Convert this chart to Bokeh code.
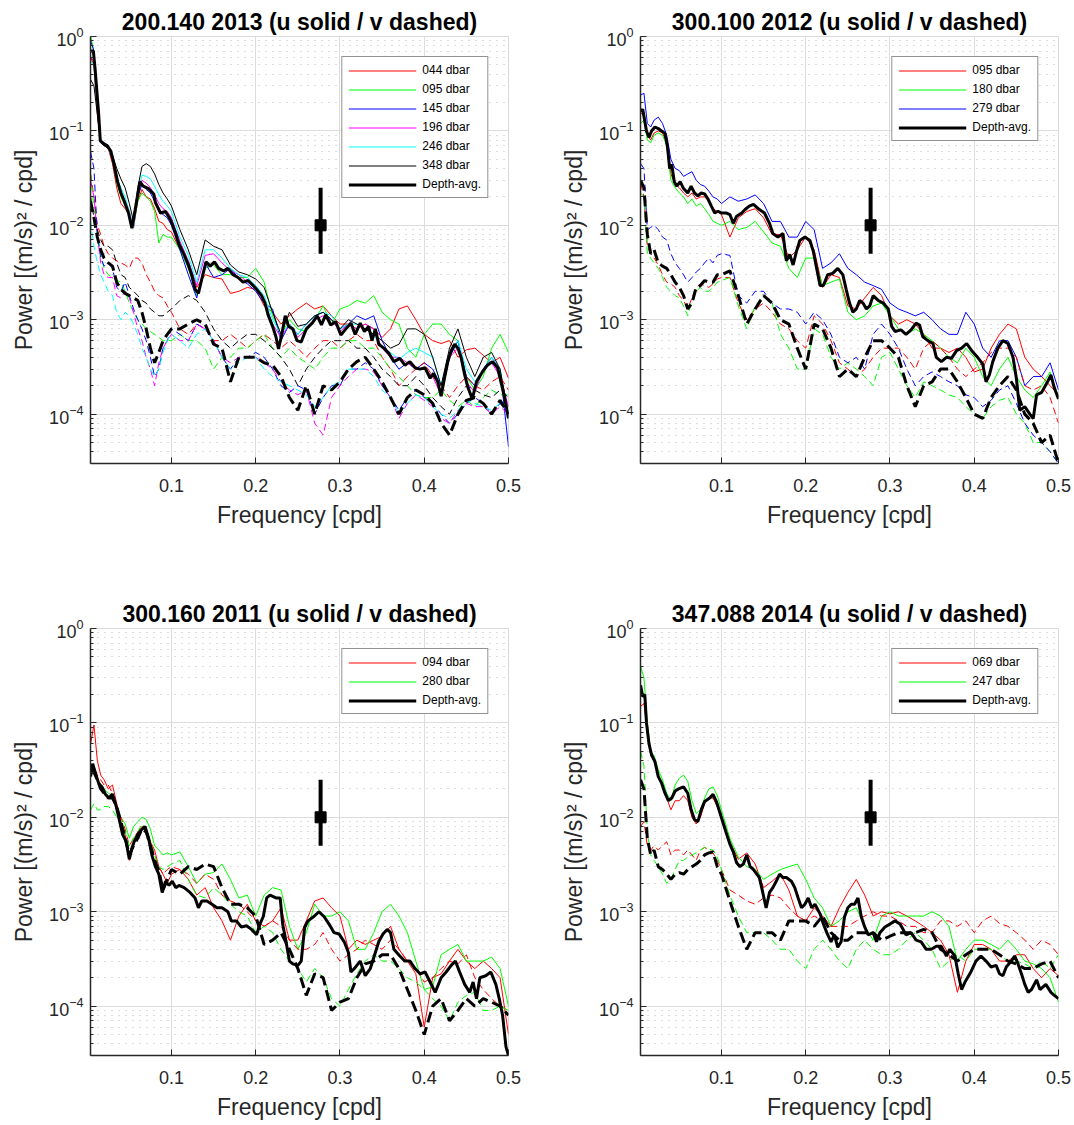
from bokeh.plotting import figure
from bokeh.layouts import column, row
from bokeh.models import Range1d, FixedTicker, Legend, LegendItem
from bokeh.embed import file_html
from bokeh.resources import INLINE

FONT = "Liberation Sans"

# ---------------- common frequency grid (cpd) for the thin spectra ----------------
F_GRID = [0.004, 0.008, 0.012, 0.016, 0.02, 0.025, 0.03, 0.035, 0.04, 0.045,
          0.05, 0.055, 0.06, 0.065, 0.07, 0.075, 0.08, 0.085, 0.09, 0.095,
          0.10, 0.11, 0.12, 0.13, 0.14, 0.15, 0.16, 0.17, 0.18, 0.19,
          0.20, 0.21, 0.22, 0.23, 0.24, 0.25, 0.26, 0.27, 0.28, 0.29,
          0.30, 0.31, 0.32, 0.33, 0.34, 0.35, 0.36, 0.37, 0.38, 0.39,
          0.40, 0.41, 0.42, 0.43, 0.44, 0.45, 0.46, 0.47, 0.48, 0.49, 0.50]

# ---------------- panel 1: 200.140 2013 ----------------
P1_TITLE = "200.140 2013 (u solid / v dashed)"
P1_LABELS = ["044 dbar", "095 dbar", "145 dbar", "196 dbar", "246 dbar", "348 dbar"]
P1_COLORS = ["#ff0000", "#00ff00", "#0000ff", "#ff00ff", "#00ffff", "#000000"]
P1_U_044 = [0.6, 0.5, 0.15, 0.075, 0.07, 0.065, 0.045, 0.025, 0.017, 0.015, 0.013, 0.0095, 0.018, 0.024, 0.02, 0.019, 0.015, 0.011, 0.0105, 0.009,
            0.0085, 0.0055, 0.0042, 0.0022, 0.003, 0.0028, 0.0027, 0.0019, 0.002, 0.0022,
            0.0021, 0.0014, 0.0012, 0.0009, 0.0011, 0.0013, 0.0015, 0.0013, 0.0014, 0.0011,
            0.0009, 0.0009, 0.0008, 0.0009, 0.0008, 0.00065, 0.0008, 0.0013, 0.0014, 0.001,
            0.0007, 0.0006, 0.00056, 0.0006, 0.0004, 0.00048, 0.0005, 0.00042, 0.00035, 0.0004, 0.00024]
P1_U_095 = [1.0, 0.7, 0.2, 0.08, 0.075, 0.068, 0.05, 0.028, 0.02, 0.016, 0.013, 0.01, 0.018, 0.022, 0.02, 0.018, 0.014, 0.0065, 0.008, 0.0075,
            0.0075, 0.0055, 0.0035, 0.0018, 0.0035, 0.0038, 0.003, 0.003, 0.0028, 0.0028,
            0.0035, 0.0025, 0.0011, 0.0007, 0.001, 0.0008, 0.00075, 0.001, 0.0014, 0.0009,
            0.0013, 0.0014, 0.0016, 0.0015, 0.0018, 0.0012, 0.001, 0.0009, 0.0005, 0.0004,
            0.0007, 0.0009, 0.0009, 0.0007, 0.0006, 0.00025, 0.00018, 0.00025, 0.0005, 0.0007, 0.00045]
P1_U_145 = [0.9, 0.7, 0.2, 0.08, 0.075, 0.07, 0.05, 0.03, 0.022, 0.017, 0.013, 0.01, 0.02, 0.027, 0.024, 0.022, 0.018, 0.014, 0.013, 0.012,
            0.01, 0.0055, 0.003, 0.0017, 0.004, 0.0028, 0.003, 0.0035, 0.0027, 0.0024,
            0.002, 0.0015, 0.0013, 0.0006, 0.0009, 0.0007, 0.0009, 0.0011, 0.0012, 0.001,
            0.0008, 0.0009, 0.0011, 0.001, 0.0011, 0.0006, 0.0004, 0.0003, 0.00035, 0.0003,
            0.00035, 0.0003, 0.0002, 0.0004, 0.0006, 0.00025, 0.0002, 0.0003, 0.0004, 0.0003, 0.000045]
P1_U_196 = [0.6, 0.55, 0.18, 0.075, 0.07, 0.066, 0.05, 0.031, 0.023, 0.018, 0.014, 0.0095, 0.021, 0.03, 0.028, 0.025, 0.021, 0.017, 0.015, 0.014,
            0.012, 0.0068, 0.0042, 0.0023, 0.0048, 0.005, 0.004, 0.0033, 0.003, 0.0025,
            0.0022, 0.0016, 0.0009, 0.00065, 0.0009, 0.00065, 0.0008, 0.001, 0.0011, 0.001,
            0.00075, 0.0009, 0.0008, 0.0009, 0.0008, 0.0005, 0.0004, 0.0004, 0.00035, 0.0003,
            0.0003, 0.00025, 0.00016, 0.0004, 0.0005, 0.00022, 0.00017, 0.0003, 0.00035, 0.00025, 0.00012]
P1_U_246 = [0.55, 0.5, 0.17, 0.075, 0.07, 0.066, 0.05, 0.033, 0.025, 0.02, 0.014, 0.0095, 0.022, 0.034, 0.033, 0.031, 0.026, 0.021, 0.018, 0.016,
            0.014, 0.0075, 0.0048, 0.0025, 0.0055, 0.0055, 0.0045, 0.0035, 0.003, 0.0028,
            0.0023, 0.0018, 0.001, 0.0007, 0.0009, 0.0007, 0.0009, 0.0011, 0.0012, 0.0011,
            0.0008, 0.0009, 0.0009, 0.0008, 0.0007, 0.0005, 0.00045, 0.00038, 0.00045, 0.0005,
            0.00045, 0.0004, 0.0002, 0.00045, 0.0006, 0.0003, 0.00022, 0.0003, 0.0004, 0.0003, 0.00009]
P1_U_348 = [0.35, 0.3, 0.15, 0.075, 0.07, 0.065, 0.055, 0.04, 0.031, 0.025, 0.017, 0.011, 0.025, 0.042, 0.045, 0.042, 0.035, 0.027, 0.022, 0.019,
            0.016, 0.009, 0.0055, 0.003, 0.007, 0.006, 0.0055, 0.0038, 0.0032, 0.003,
            0.0027, 0.0022, 0.0012, 0.0007, 0.0012, 0.00085, 0.0009, 0.0011, 0.0012, 0.001,
            0.0008, 0.001, 0.0009, 0.0008, 0.0007, 0.0006, 0.0005, 0.00055, 0.0008, 0.0008,
            0.0007, 0.0004, 0.0002, 0.0005, 0.0008, 0.0004, 0.00025, 0.0004, 0.00045, 0.0003, 0.0001]
P1_V_044 = [0.035, 0.02, 0.01, 0.008, 0.006, 0.005, 0.0045, 0.0042, 0.004, 0.0038, 0.0035, 0.0045, 0.0045, 0.004, 0.003, 0.0025, 0.002, 0.0018, 0.0017, 0.0014,
            0.0012, 0.0008, 0.0007, 0.0009, 0.0008, 0.0006, 0.0006, 0.0007, 0.0006, 0.0005,
            0.0006, 0.0007, 0.0006, 0.0005, 0.0006, 0.0005, 0.0004, 0.0005, 0.0006, 0.0006,
            0.0005, 0.0006, 0.0007, 0.0006, 0.0006, 0.0004, 0.0003, 0.0002, 0.00025, 0.0003,
            0.00035, 0.00025, 0.0002, 0.00015, 0.0002, 0.00025, 0.0002, 0.00018, 0.00022, 0.00025, 0.00018]
P1_V_095 = [0.035, 0.015, 0.008, 0.005, 0.0035, 0.003, 0.0028, 0.0026, 0.0025, 0.002, 0.0015, 0.0012, 0.001, 0.0009, 0.0008, 0.00075, 0.0007, 0.00065, 0.0006, 0.0006,
            0.0006, 0.0007, 0.0006, 0.0006, 0.0005, 0.0003, 0.0004, 0.0004, 0.0005, 0.0005,
            0.0006, 0.0007, 0.0005, 0.0004, 0.0005, 0.0004, 0.00035, 0.0003, 0.0004, 0.0005,
            0.0005, 0.0006, 0.0006, 0.0005, 0.0005, 0.0004, 0.0003, 0.00025, 0.0002, 0.00016,
            0.00015, 0.00015, 0.00018, 0.00014, 0.00012, 0.00014, 0.00012, 0.00015, 0.00018, 0.00016, 0.00016]
P1_V_145 = [0.06, 0.04, 0.008, 0.0045, 0.0037, 0.004, 0.0035, 0.0022, 0.002, 0.0025, 0.0018, 0.0013, 0.001, 0.0008, 0.0006, 0.0004, 0.00025, 0.0003, 0.0005, 0.0006,
            0.0008, 0.0007, 0.0006, 0.0009, 0.0008, 0.0006, 0.0004, 0.0003, 0.0004, 0.0004,
            0.00045, 0.0004, 0.0003, 0.0002, 0.00017, 0.0002, 0.00018, 0.0001, 0.00015, 0.0002,
            0.0002, 0.0003, 0.0003, 0.00035, 0.0003, 0.0002, 0.00015, 0.00011, 0.00015, 0.00018,
            0.00015, 0.00013, 0.0001, 0.00008, 0.0001, 0.00013, 0.00015, 0.00013, 0.0001, 0.00013, 0.0001]
P1_V_196 = [0.03, 0.02, 0.008, 0.004, 0.003, 0.0028, 0.0028, 0.0018, 0.0017, 0.002, 0.0017, 0.0012, 0.0008, 0.0006, 0.0004, 0.0003, 0.0002, 0.00035, 0.0005, 0.0006,
            0.0007, 0.0006, 0.0006, 0.0009, 0.0008, 0.0006, 0.0004, 0.00035, 0.0004, 0.0004,
            0.0004, 0.00035, 0.0003, 0.00022, 0.00018, 0.00016, 0.00018, 0.00008, 0.00006, 0.00015,
            0.0002, 0.00025, 0.0003, 0.0003, 0.00028, 0.0002, 0.00015, 0.00009, 0.00013, 0.00016,
            0.00014, 0.00012, 0.00009, 0.00008, 0.00011, 0.00013, 0.00012, 0.00012, 0.0001, 0.00012, 0.0001]
P1_V_246 = [0.011, 0.006, 0.004, 0.003, 0.0025, 0.002, 0.0018, 0.0012, 0.001, 0.0012, 0.0011, 0.0009, 0.0007, 0.0005, 0.0004, 0.0003, 0.00025, 0.0003, 0.00045, 0.0006,
            0.0007, 0.0006, 0.0005, 0.0007, 0.0008, 0.0006, 0.0004, 0.0003, 0.00035, 0.0004,
            0.0004, 0.0003, 0.00025, 0.00022, 0.0002, 0.00018, 0.00016, 0.00012, 0.00015, 0.0002,
            0.00022, 0.0003, 0.0003, 0.0003, 0.00025, 0.00018, 0.00015, 0.0001, 0.00013, 0.00016,
            0.00015, 0.00012, 0.0001, 0.00009, 0.00011, 0.00014, 0.00013, 0.00012, 0.00011, 0.00013, 0.00012]
P1_V_348 = [0.02, 0.012, 0.009, 0.007, 0.006, 0.006, 0.0055, 0.004, 0.003, 0.0028, 0.0022, 0.002, 0.0018, 0.0016, 0.0015, 0.0013, 0.0012, 0.0011, 0.0011, 0.0012,
            0.0013, 0.0016, 0.0018, 0.0016, 0.0012, 0.0008, 0.0006, 0.0005, 0.0006, 0.0007,
            0.0007, 0.0006, 0.0005, 0.0004, 0.0003, 0.0002, 0.0003, 0.0004, 0.0005, 0.0006,
            0.0006, 0.0006, 0.0005, 0.0005, 0.0004, 0.0003, 0.00025, 0.0002, 0.0002, 0.00025,
            0.0002, 0.00015, 0.00012, 0.0001, 0.00015, 0.0002, 0.00018, 0.00016, 0.00015, 0.00018, 0.00015]
P1_V_AVG = [0.018, 0.012, 0.0075, 0.0055, 0.0045, 0.004, 0.0037, 0.0025, 0.0021, 0.0019, 0.0018, 0.0017, 0.0016, 0.0012, 0.0008, 0.0005, 0.00035, 0.00045, 0.0006, 0.0007,
            0.0008, 0.0008, 0.0009, 0.001, 0.0009, 0.00055, 0.0005, 0.00022, 0.0004, 0.0004,
            0.0004, 0.00035, 0.00033, 0.00025, 0.00015, 0.00011, 0.0002, 0.0001, 0.0002, 0.00018,
            0.00022, 0.0003, 0.00036, 0.0004, 0.0003, 0.00022, 0.00015, 0.0001, 0.00015, 0.00018,
            0.00016, 0.00013, 0.00008, 0.00006, 0.0001, 0.00014, 0.00015, 0.00013, 0.0001, 0.00014, 0.0001]
P1_U_AVG_F = [0.004, 0.0073, 0.0093, 0.0135, 0.0155, 0.0196, 0.0237, 0.028, 0.031, 0.036, 0.040, 0.044, 0.049, 0.053, 0.057,
              0.0625, 0.0665, 0.0727, 0.079, 0.081, 0.087, 0.093, 0.099, 0.105, 0.109, 0.115, 0.12, 0.124, 0.128, 0.132,
              0.136, 0.141, 0.146, 0.151, 0.156, 0.162, 0.167, 0.173, 0.179, 0.185, 0.191, 0.197, 0.203, 0.207, 0.211,
              0.215, 0.22, 0.224, 0.227, 0.231, 0.235, 0.239, 0.244, 0.249, 0.254, 0.26, 0.267, 0.273, 0.278, 0.283,
              0.289, 0.295, 0.301, 0.307, 0.313, 0.318, 0.324, 0.329, 0.334, 0.338, 0.342, 0.346, 0.352, 0.358, 0.364,
              0.371, 0.377, 0.383, 0.389, 0.395, 0.401, 0.407, 0.411, 0.416, 0.42, 0.424, 0.428, 0.432, 0.436, 0.44,
              0.444, 0.448, 0.452, 0.457, 0.462, 0.469, 0.475, 0.481, 0.487, 0.491, 0.495, 0.5]
P1_U_AVG = [0.70, 0.70, 0.46, 0.155, 0.079, 0.073, 0.07, 0.061, 0.048, 0.029, 0.022, 0.018, 0.0135, 0.0093, 0.0148,
            0.029, 0.026, 0.0245, 0.0214, 0.0174, 0.0135, 0.014, 0.0114, 0.0082, 0.0063, 0.0049, 0.0038, 0.003, 0.0021, 0.0019,
            0.0027, 0.0041, 0.0037, 0.0041, 0.0035, 0.0033, 0.0035, 0.003, 0.0028, 0.0025, 0.0026, 0.0023, 0.002, 0.0018, 0.0015,
            0.0011, 0.00085, 0.00066, 0.00049, 0.0007, 0.0011, 0.00085, 0.0008, 0.0006, 0.00058, 0.0008, 0.00092, 0.0011, 0.00088, 0.00113,
            0.00088, 0.00095, 0.00069, 0.0008, 0.00092, 0.0007, 0.00092, 0.00075, 0.00085, 0.0006, 0.0008, 0.00055, 0.0005, 0.00044, 0.00036,
            0.00039, 0.00033, 0.00036, 0.00031, 0.0003, 0.00031, 0.00024, 0.00027, 0.00022, 0.000155, 0.00024, 0.00036, 0.00047, 0.00055, 0.0005,
            0.00039, 0.00026, 0.00019, 0.000145, 0.00022, 0.00028, 0.00033, 0.00036, 0.00031, 0.00022, 0.000155, 0.00009]

# ---------------- panel 2: 300.100 2012 ----------------
P2_TITLE = "300.100 2012 (u solid / v dashed)"
P2_LABELS = ["095 dbar", "180 dbar", "279 dbar"]
P2_COLORS = ["#ff0000", "#00ff00", "#0000ff"]
P2_U_095 = [0.15, 0.16, 0.09, 0.08, 0.095, 0.1, 0.095, 0.075, 0.035, 0.027, 0.025, 0.022, 0.02, 0.022, 0.019, 0.02, 0.02, 0.018, 0.015, 0.014,
            0.013, 0.0075, 0.012, 0.014, 0.015, 0.012, 0.008, 0.008, 0.0045, 0.0055,
            0.0075, 0.0055, 0.0022, 0.003, 0.0028, 0.0014, 0.0013, 0.0017, 0.0022, 0.0018,
            0.0011, 0.0009, 0.001, 0.0009, 0.0007, 0.0005, 0.0005, 0.00045, 0.0005, 0.0004,
            0.00028, 0.0003, 0.0005, 0.0007, 0.0009, 0.0008, 0.0004, 0.0003, 0.00025, 0.0002, 0.00016]
P2_U_180 = [0.12, 0.13, 0.08, 0.075, 0.09, 0.095, 0.09, 0.07, 0.03, 0.025, 0.022, 0.02, 0.017, 0.019, 0.016, 0.017, 0.015, 0.013, 0.011, 0.0105,
            0.01, 0.011, 0.009, 0.0095, 0.011, 0.0085, 0.0065, 0.006, 0.0035, 0.0028,
            0.0045, 0.0045, 0.0023, 0.0025, 0.0027, 0.0012, 0.001, 0.0011, 0.0014, 0.0015,
            0.0011, 0.0008, 0.0007, 0.0008, 0.0007, 0.0006, 0.0005, 0.0004, 0.00035, 0.0005,
            0.0004, 0.00025, 0.0002, 0.0003, 0.0004, 0.00025, 0.00018, 0.00015, 0.0002, 0.00028, 0.00015]
P2_U_279 = [0.24, 0.25, 0.12, 0.11, 0.13, 0.14, 0.12, 0.09, 0.05, 0.04, 0.038, 0.033, 0.035, 0.037, 0.03, 0.027, 0.026, 0.023, 0.02, 0.019,
            0.017, 0.02, 0.018, 0.019, 0.021, 0.017, 0.011, 0.011, 0.0075, 0.0075,
            0.011, 0.009, 0.0035, 0.004, 0.005, 0.0035, 0.003, 0.0025, 0.0023, 0.0021,
            0.0015, 0.0013, 0.0012, 0.0011, 0.0012, 0.001, 0.0008, 0.0007, 0.0007, 0.0012,
            0.0009, 0.0005, 0.0004, 0.0006, 0.0006, 0.0004, 0.0002, 0.00025, 0.00025, 0.00035, 0.00018]
P2_V_095 = [0.028, 0.02, 0.006, 0.005, 0.0045, 0.0038, 0.003, 0.0025, 0.0024, 0.0022, 0.0018, 0.0016, 0.0013, 0.0017, 0.0022, 0.0024, 0.0023, 0.0022, 0.0024, 0.0027,
            0.0028, 0.0028, 0.0015, 0.001, 0.0013, 0.0015, 0.0012, 0.0009, 0.0008, 0.0006,
            0.0005, 0.0011, 0.0009, 0.0006, 0.00035, 0.0003, 0.00025, 0.0003, 0.0004, 0.0005,
            0.0005, 0.0005, 0.0004, 0.0003, 0.0005, 0.0006, 0.0005, 0.0004, 0.0003, 0.00025,
            0.0003, 0.00035, 0.00045, 0.0005, 0.0005, 0.0004, 0.0002, 0.00018, 0.0002, 0.00015, 0.00008]
P2_V_180 = [0.022, 0.02, 0.005, 0.0045, 0.004, 0.0035, 0.0028, 0.0022, 0.002, 0.0018, 0.0017, 0.0014, 0.0011, 0.0016, 0.002, 0.0022, 0.002, 0.002, 0.0022, 0.0025,
            0.0026, 0.0028, 0.0014, 0.0008, 0.0014, 0.0018, 0.0015, 0.0007, 0.0005, 0.0003,
            0.0003, 0.0008, 0.0007, 0.0004, 0.0003, 0.00035, 0.0003, 0.00025, 0.0002, 0.0004,
            0.00045, 0.0003, 0.0002, 0.00015, 0.00022, 0.0002, 0.00018, 0.00016, 0.00015, 0.00012,
            0.0001, 0.00009, 0.00012, 0.00014, 0.00015, 0.0001, 0.00008, 0.00005, 0.00005, 0.00004, 0.00003]
P2_V_279 = [0.045, 0.04, 0.009, 0.0095, 0.01, 0.009, 0.0075, 0.007, 0.005, 0.004, 0.0035, 0.003, 0.0025, 0.0028, 0.0032, 0.0035, 0.004, 0.0045, 0.004, 0.0048,
            0.005, 0.0048, 0.0018, 0.0015, 0.002, 0.002, 0.0015, 0.0013, 0.0013, 0.0012,
            0.0009, 0.0012, 0.001, 0.0007, 0.0004, 0.00035, 0.0004, 0.0003, 0.0007, 0.0009,
            0.0007, 0.0005, 0.0003, 0.0002, 0.00025, 0.00028, 0.00025, 0.00022, 0.0002, 0.00016,
            0.00015, 0.00012, 0.00014, 0.00018, 0.0002, 0.00013, 0.00008, 0.00006, 0.00005, 0.00004, 0.00003]
P2_V_AVG = [0.03, 0.025, 0.008, 0.005, 0.0055, 0.004, 0.0037, 0.0035, 0.003, 0.0025, 0.0022, 0.0018, 0.0013, 0.0015, 0.0022, 0.0023, 0.0026, 0.0025, 0.0025, 0.003,
            0.003, 0.0033, 0.0018, 0.0009, 0.0013, 0.0018, 0.0015, 0.001, 0.0009, 0.0005,
            0.0003, 0.0009, 0.0008, 0.0005, 0.00025, 0.0003, 0.00025, 0.0004, 0.0006, 0.0006,
            0.0005, 0.0004, 0.0002, 0.00012, 0.0002, 0.00022, 0.0003, 0.0003, 0.00022, 0.00015,
            0.0001, 0.00009, 0.00015, 0.0002, 0.00025, 0.00018, 0.0001, 0.00008, 0.00005, 0.00006, 0.00003]
P2_U_AVG_F = [0.004, 0.0065, 0.011, 0.014, 0.017, 0.021, 0.025, 0.029, 0.033, 0.036, 0.0385, 0.041, 0.044, 0.047, 0.051,
              0.055, 0.06, 0.064, 0.068, 0.072, 0.076, 0.08, 0.084, 0.088, 0.092, 0.096, 0.1, 0.106, 0.11, 0.114,
              0.118, 0.124, 0.128, 0.133, 0.138, 0.145, 0.151, 0.157, 0.161, 0.167, 0.173, 0.177, 0.181, 0.185, 0.189,
              0.193, 0.199, 0.205, 0.209, 0.213, 0.217, 0.221, 0.226, 0.232, 0.238, 0.244, 0.248, 0.252, 0.256, 0.26,
              0.264, 0.268, 0.272, 0.276, 0.28, 0.286, 0.292, 0.298, 0.302, 0.306, 0.313, 0.319, 0.325, 0.331, 0.335,
              0.339, 0.345, 0.351, 0.355, 0.361, 0.367, 0.373, 0.379, 0.385, 0.391, 0.397, 0.404, 0.41, 0.414, 0.418,
              0.422, 0.428, 0.434, 0.44, 0.446, 0.45, 0.454, 0.46, 0.466, 0.47, 0.474, 0.48, 0.487, 0.491, 0.495, 0.5]
P2_U_AVG = [0.16, 0.17, 0.1, 0.085, 0.1, 0.11, 0.106, 0.1, 0.094, 0.067, 0.04, 0.044, 0.029, 0.026, 0.029,
            0.0245, 0.022, 0.026, 0.022, 0.0205, 0.022, 0.0215, 0.019, 0.016, 0.0135, 0.0141, 0.0135, 0.0135, 0.013, 0.0105,
            0.0125, 0.0135, 0.0147, 0.016, 0.0167, 0.0147, 0.0135, 0.0105, 0.0082, 0.0075, 0.0082, 0.0042, 0.0049, 0.0038, 0.0053,
            0.0069, 0.0075, 0.0069, 0.0053, 0.0035, 0.0023, 0.0023, 0.003, 0.0031, 0.0035, 0.003, 0.0021, 0.0015, 0.0012, 0.0013,
            0.0016, 0.0015, 0.0013, 0.0014, 0.0018, 0.0016, 0.0015, 0.0013, 0.00085, 0.00075, 0.00078, 0.0007, 0.00078, 0.00092, 0.00088,
            0.00066, 0.0006, 0.00056, 0.0004, 0.00036, 0.0004, 0.00039, 0.00047, 0.0005, 0.00056, 0.00047, 0.0004, 0.00034, 0.00022, 0.00026,
            0.00036, 0.0005, 0.0006, 0.00056, 0.0004, 0.00024, 0.00011, 0.00012, 0.0001, 0.00009, 0.00016, 0.00017, 0.00022, 0.00026, 0.00019, 0.000145]

# ---------------- panel 3: 300.160 2011 ----------------
P3_TITLE = "300.160 2011 (u solid / v dashed)"
P3_LABELS = ["094 dbar", "280 dbar"]
P3_COLORS = ["#ff0000", "#00ff00"]
P3_U_094 = [0.06, 0.095, 0.04, 0.028, 0.025, 0.02, 0.022, 0.014, 0.009, 0.0065, 0.0035, 0.005, 0.007, 0.008, 0.0075, 0.0055, 0.0045, 0.003, 0.0025, 0.002,
            0.0025, 0.0028, 0.0022, 0.0015, 0.0018, 0.0011, 0.0008, 0.0005, 0.0009, 0.0012,
            0.0008, 0.0007, 0.0008, 0.0011, 0.0005, 0.0005, 0.0008, 0.0013, 0.0014, 0.0011,
            0.0009, 0.0004, 0.0005, 0.00045, 0.0005, 0.00055, 0.0007, 0.0004, 0.0003, 0.00022,
            0.00006, 0.0002, 0.00022, 0.0003, 0.0004, 0.0003, 0.00025, 0.0003, 0.00025, 0.0002, 0.00005]
P3_U_280 = [0.03, 0.035, 0.025, 0.022, 0.02, 0.018, 0.017, 0.012, 0.01, 0.0085, 0.006, 0.008, 0.009, 0.01, 0.0095, 0.0075, 0.005, 0.0045, 0.004, 0.0042,
            0.004, 0.0043, 0.003, 0.002, 0.0025, 0.0026, 0.0032, 0.0022, 0.0014, 0.0015,
            0.0009, 0.0015, 0.0018, 0.0017, 0.0007, 0.0004, 0.0006, 0.0012, 0.0009, 0.0009,
            0.001, 0.0008, 0.0004, 0.0004, 0.0006, 0.001, 0.0012, 0.0009, 0.0006, 0.0003,
            0.00015, 0.00016, 0.00035, 0.0004, 0.00045, 0.0003, 0.0003, 0.0003, 0.00033, 0.00025, 0.0001]
P3_V_094 = [0.03, 0.035, 0.028, 0.025, 0.022, 0.022, 0.018, 0.012, 0.01, 0.0075, 0.005, 0.006, 0.007, 0.008, 0.007, 0.0055, 0.004, 0.003, 0.0025, 0.0028,
            0.003, 0.0028, 0.0025, 0.002, 0.0025, 0.0022, 0.0015, 0.0013, 0.0012, 0.001,
            0.0008, 0.0007, 0.0008, 0.0007, 0.0005, 0.0004, 0.0004, 0.00045, 0.0006, 0.0004,
            0.0003, 0.00035, 0.0004, 0.0005, 0.00045, 0.0004, 0.0005, 0.0004, 0.0003, 0.00025,
            0.00018, 0.0002, 0.00025, 0.0003, 0.00028, 0.00035, 0.0002, 0.00015, 0.00012, 0.0001, 0.00009]
P3_V_280 = [0.012, 0.014, 0.012, 0.012, 0.013, 0.013, 0.012, 0.01, 0.009, 0.007, 0.005, 0.006, 0.007, 0.0085, 0.0075, 0.0055, 0.004, 0.003, 0.0028, 0.003,
            0.0032, 0.0035, 0.0022, 0.0015, 0.0014, 0.0018, 0.0015, 0.0012, 0.001, 0.0009,
            0.0006, 0.0007, 0.0006, 0.0004, 0.0003, 0.00025, 0.00018, 0.00025, 0.0002, 0.00012,
            0.0001, 0.00015, 0.00022, 0.0003, 0.00035, 0.0003, 0.0003, 0.00025, 0.0002, 0.00018,
            0.00015, 0.00012, 0.0001, 0.00007, 0.00011, 0.00013, 0.00014, 0.00009, 0.00009, 0.0001, 0.00009]
P3_V_AVG = [0.03, 0.03, 0.025, 0.02, 0.018, 0.016, 0.016, 0.013, 0.009, 0.006, 0.004, 0.005, 0.006, 0.0075, 0.007, 0.005, 0.0035, 0.0027, 0.0017, 0.0022,
            0.0028, 0.0025, 0.003, 0.0028, 0.0032, 0.003, 0.0018, 0.0012, 0.0012, 0.0011,
            0.0009, 0.00045, 0.0005, 0.0006, 0.0004, 0.00025, 0.00013, 0.00022, 0.0002, 0.00009,
            0.00011, 0.00012, 0.0002, 0.00028, 0.0003, 0.00035, 0.00035, 0.00025, 0.00015, 0.00009,
            0.00005, 0.0001, 0.00012, 0.00007, 0.00009, 0.00012, 0.0001, 0.00012, 0.00011, 0.0001, 0.00008]
P3_U_AVG_F = [0.004, 0.0065, 0.0094, 0.0135, 0.0175, 0.0216, 0.0257, 0.03, 0.034, 0.038, 0.042, 0.046, 0.05, 0.053, 0.056,
              0.06, 0.064, 0.0686, 0.0727, 0.077, 0.081, 0.085, 0.089, 0.093, 0.097, 0.101, 0.105, 0.109, 0.115, 0.122,
              0.128, 0.132, 0.136, 0.142, 0.148, 0.154, 0.16, 0.167, 0.171, 0.177, 0.183, 0.189, 0.195, 0.201, 0.205,
              0.209, 0.213, 0.217, 0.224, 0.229, 0.232, 0.236, 0.24, 0.244, 0.25, 0.254, 0.258, 0.262, 0.269, 0.275,
              0.281, 0.287, 0.293, 0.299, 0.305, 0.31, 0.313, 0.317, 0.324, 0.33, 0.336, 0.342, 0.346, 0.351, 0.356,
              0.36, 0.364, 0.371, 0.377, 0.383, 0.389, 0.395, 0.401, 0.407, 0.413, 0.42, 0.426, 0.432, 0.437, 0.442,
              0.448, 0.454, 0.458, 0.462, 0.466, 0.473, 0.479, 0.485, 0.489, 0.493, 0.497, 0.5]
P3_U_AVG = [0.027, 0.037, 0.03, 0.023, 0.021, 0.0176, 0.016, 0.0176, 0.0135, 0.0095, 0.0066, 0.0056, 0.0036, 0.0047, 0.0056,
            0.0066, 0.0073, 0.008, 0.0061, 0.0039, 0.003, 0.0025, 0.0016, 0.0021, 0.0019, 0.0021, 0.0018, 0.0019, 0.0018, 0.0016,
            0.0014, 0.0011, 0.0013, 0.0013, 0.0012, 0.0011, 0.0011, 0.001, 0.0008, 0.0008, 0.00069, 0.00071, 0.00065, 0.00057, 0.00074,
            0.00089, 0.0014, 0.0015, 0.0014, 0.0014, 0.00074, 0.00048, 0.0003, 0.00028, 0.00027, 0.0003, 0.00068, 0.0008, 0.00089, 0.001,
            0.00089, 0.00074, 0.0006, 0.00058, 0.00048, 0.00037, 0.00023, 0.00025, 0.0003, 0.00021, 0.00025, 0.00037, 0.00048, 0.00058, 0.00065,
            0.0006, 0.0004, 0.00034, 0.0003, 0.0003, 0.00025, 0.00022, 0.00023, 0.00018, 0.00014, 0.0002, 0.00023, 0.00027, 0.0003, 0.00023,
            0.00017, 0.00014, 0.00018, 0.00012, 0.0002, 0.00021, 0.00023, 0.00017, 0.00012, 0.00008, 0.000037, 0.00003]

# ---------------- panel 4: 347.088 2014 ----------------
P4_TITLE = "347.088 2014 (u solid / v dashed)"
P4_LABELS = ["069 dbar", "247 dbar"]
P4_COLORS = ["#ff0000", "#00ff00"]
P4_U_069 = [0.15, 0.16, 0.08, 0.045, 0.04, 0.028, 0.022, 0.016, 0.012, 0.015, 0.015, 0.017, 0.015, 0.01, 0.0085, 0.01, 0.014, 0.016, 0.016, 0.013,
            0.0095, 0.0055, 0.0036, 0.0042, 0.0032, 0.0018, 0.0021, 0.0025, 0.0017, 0.0009,
            0.0008, 0.0011, 0.0009, 0.0007, 0.0011, 0.0016, 0.0022, 0.0015, 0.0009, 0.001,
            0.00095, 0.001, 0.0009, 0.0008, 0.0007, 0.0006, 0.0005, 0.00035, 0.00014, 0.0003,
            0.00045, 0.00045, 0.0004, 0.0003, 0.0003, 0.00035, 0.00035, 0.00025, 0.0002, 0.00025, 0.00021]
P4_U_247 = [0.4, 0.3, 0.1, 0.05, 0.045, 0.032, 0.025, 0.018, 0.015, 0.022, 0.026, 0.028, 0.024, 0.015, 0.011, 0.012, 0.016, 0.02, 0.021, 0.017,
            0.012, 0.006, 0.0038, 0.003, 0.0028, 0.0022, 0.0025, 0.0028, 0.003, 0.0032,
            0.0022, 0.0014, 0.0011, 0.0007, 0.0008, 0.001, 0.0011, 0.0007, 0.0005, 0.0009,
            0.001, 0.0009, 0.0009, 0.0009, 0.0009, 0.001, 0.0009, 0.0007, 0.0003, 0.0004,
            0.0005, 0.0005, 0.00045, 0.0004, 0.0005, 0.0004, 0.0003, 0.00028, 0.00025, 0.0002, 0.00011]
P4_V_069 = [0.008, 0.009, 0.005, 0.0045, 0.005, 0.0045, 0.005, 0.0055, 0.004, 0.0045, 0.0045, 0.004, 0.0045, 0.004, 0.0035, 0.0045, 0.0048, 0.0045, 0.0042, 0.0035,
            0.0028, 0.0017, 0.0015, 0.0013, 0.0012, 0.0014, 0.0015, 0.0014, 0.0011, 0.0009,
            0.0008, 0.0009, 0.0008, 0.0007, 0.0007, 0.0007, 0.0008, 0.0009, 0.001, 0.0009,
            0.0009, 0.0008, 0.0007, 0.0007, 0.0006, 0.0006, 0.0008, 0.0008, 0.0007, 0.0008,
            0.0006, 0.0008, 0.0009, 0.00075, 0.0007, 0.0006, 0.0005, 0.0004, 0.0005, 0.00045, 0.00035]
P4_V_247 = [0.05, 0.035, 0.007, 0.004, 0.0035, 0.003, 0.0025, 0.002, 0.0022, 0.0028, 0.0035, 0.0035, 0.0038, 0.004, 0.0042, 0.0045, 0.0048, 0.0046, 0.0045, 0.0038,
            0.0028, 0.0015, 0.0009, 0.0006, 0.0006, 0.0006, 0.0005, 0.0004, 0.0004, 0.0003,
            0.00025, 0.0004, 0.0005, 0.0004, 0.0003, 0.00025, 0.0004, 0.0005, 0.0004, 0.00035,
            0.00035, 0.0004, 0.0005, 0.0006, 0.0005, 0.0004, 0.00025, 0.0003, 0.00035, 0.0003,
            0.0004, 0.0004, 0.0004, 0.00035, 0.0003, 0.0003, 0.00028, 0.00025, 0.0003, 0.00025, 0.00035]
P4_V_AVG = [0.025, 0.02, 0.006, 0.004, 0.0045, 0.003, 0.0028, 0.0025, 0.0022, 0.0025, 0.0026, 0.0025, 0.0028, 0.003, 0.0032, 0.0035, 0.004, 0.0042, 0.0043, 0.003,
            0.0025, 0.0013, 0.0007, 0.0004, 0.0006, 0.0006, 0.0006, 0.0005, 0.0008, 0.0008,
            0.0008, 0.0007, 0.0009, 0.0006, 0.0005, 0.0005, 0.0006, 0.0006, 0.0006, 0.0005,
            0.00055, 0.0006, 0.0006, 0.0006, 0.00065, 0.0006, 0.0004, 0.00035, 0.0003, 0.00035,
            0.0004, 0.0004, 0.0004, 0.00035, 0.0003, 0.00028, 0.00025, 0.00025, 0.00028, 0.0003, 0.0002]
P4_U_AVG_F = [0.004, 0.0065, 0.009, 0.011, 0.014, 0.017, 0.021, 0.025, 0.029, 0.033, 0.037, 0.041, 0.045, 0.049, 0.055,
              0.06, 0.064, 0.068, 0.072, 0.076, 0.08, 0.086, 0.09, 0.094, 0.098, 0.102, 0.106, 0.11, 0.114, 0.118,
              0.122, 0.126, 0.13, 0.134, 0.138, 0.145, 0.149, 0.153, 0.157, 0.161, 0.165, 0.169, 0.173, 0.177, 0.183,
              0.187, 0.191, 0.195, 0.199, 0.203, 0.207, 0.211, 0.217, 0.221, 0.225, 0.23, 0.234, 0.238, 0.242, 0.246,
              0.25, 0.254, 0.258, 0.262, 0.266, 0.27, 0.274, 0.28, 0.284, 0.288, 0.294, 0.3, 0.306, 0.312, 0.319,
              0.325, 0.331, 0.337, 0.343, 0.349, 0.355, 0.361, 0.367, 0.371, 0.377, 0.381, 0.385, 0.389, 0.396, 0.402,
              0.408, 0.414, 0.42, 0.426, 0.43, 0.434, 0.438, 0.444, 0.448, 0.452, 0.456, 0.46, 0.464, 0.468, 0.474,
              0.478, 0.485, 0.491, 0.495, 0.5]
P4_U_AVG = [0.25, 0.19, 0.2, 0.1, 0.06, 0.046, 0.039, 0.027, 0.023, 0.018, 0.015, 0.016, 0.019, 0.02, 0.021,
            0.018, 0.012, 0.0095, 0.009, 0.012, 0.0147, 0.016, 0.0175, 0.0147, 0.0113, 0.0087, 0.0067, 0.0052, 0.0043, 0.0033,
            0.003, 0.0032, 0.004, 0.003, 0.0028, 0.0023, 0.0016, 0.0011, 0.0016, 0.0018, 0.0021, 0.0025, 0.0023, 0.0023, 0.0021,
            0.0018, 0.0014, 0.0011, 0.0012, 0.0014, 0.0011, 0.0012, 0.00095, 0.00074, 0.0006, 0.00048, 0.00057, 0.00042, 0.00048, 0.00088,
            0.0011, 0.0012, 0.0012, 0.0014, 0.00088, 0.00069, 0.00057, 0.0006, 0.00048, 0.0006, 0.00069, 0.00074, 0.0008, 0.00074, 0.00057,
            0.0006, 0.0005, 0.00048, 0.0004, 0.0004, 0.00043, 0.00043, 0.00034, 0.0004, 0.00034, 0.00022, 0.00015, 0.00018, 0.00023, 0.0003,
            0.00034, 0.0003, 0.00026, 0.00027, 0.00022, 0.00021, 0.00026, 0.0003, 0.00034, 0.00028, 0.00022, 0.00017, 0.00014, 0.00015, 0.00019,
            0.00015, 0.00017, 0.00014, 0.00013, 0.00012]

# error-bar indicator (same in each panel)
ERR_F = [0.277]
ERR_MID = [0.01]
ERR_LO = [0.005]
ERR_HI = [0.025]

X_TICKS = [0.1, 0.2, 0.3, 0.4, 0.5]
Y_TICKS = [1e-4, 1e-3, 1e-2, 1e-1, 1.0]
Y_MINOR = [k * 10.0 ** e for e in range(-5, 0) for k in range(2, 10) if k * 10.0 ** e >= 3e-5]

AX_COLOR = "#262626"


def make_panel(title, labels, colors, u_lines, v_lines, v_avg, u_avg_f, u_avg,
               fw, fh, bl, br, bt, bb):
    p = figure(frame_width=fw, frame_height=fh,
               min_border_left=bl, min_border_right=br, min_border_top=bt, min_border_bottom=bb,
               x_range=Range1d(0.0039, 0.5), y_range=Range1d(3e-5, 1.0), y_axis_type="log",
               output_backend="svg", toolbar_location=None, title=title,
               background_fill_color="white", border_fill_color="white")
    p.title.align = "center"
    p.title.text_font = FONT
    p.title.text_font_size = "23px"
    p.title.text_font_style = "bold"
    p.title.text_color = "black"
    p.title.standoff = 3

    p.outline_line_color = "#d9d9d9"
    p.xaxis.ticker = FixedTicker(ticks=X_TICKS)
    p.yaxis.ticker = FixedTicker(ticks=Y_TICKS, minor_ticks=Y_MINOR)
    for ax in (p.xaxis[0], p.yaxis[0]):
        ax.axis_line_color = AX_COLOR
        ax.axis_line_width = 1.5
        ax.major_tick_line_color = AX_COLOR
        ax.major_tick_in = 6
        ax.major_tick_out = 0
        ax.minor_tick_in = 3
        ax.minor_tick_out = 0
        ax.major_label_text_font = FONT
        ax.major_label_text_color = AX_COLOR
        ax.axis_label_text_font = FONT
        ax.axis_label_text_font_size = "23px"
        ax.axis_label_text_font_style = "normal"
        ax.axis_label_text_color = AX_COLOR
    p.xaxis.major_label_text_font_size = "18px"
    p.yaxis.major_label_text_font_size = "18px"
    p.xaxis.minor_tick_line_color = None
    p.yaxis.minor_tick_line_color = AX_COLOR
    p.xaxis.major_label_standoff = 15
    p.yaxis.major_label_standoff = 7
    p.xaxis.axis_label = "Frequency [cpd]"
    p.yaxis.axis_label = "Power [(m/s)\u00b2 / cpd]"
    p.xaxis.axis_label_standoff = 7
    p.yaxis.axis_label_standoff = 9

    p.xgrid.grid_line_color = "#dcdcdc"
    p.ygrid.grid_line_color = "#dcdcdc"
    p.ygrid.minor_grid_line_color = "#b8b8b8"
    p.ygrid.minor_grid_line_dash = "1 6"

    items = []
    for lab, col, vals in zip(labels, colors, u_lines):
        n = min(len(F_GRID), len(vals))
        r = p.line(F_GRID[:n], vals[:n], line_color=col, line_width=1)
        items.append(LegendItem(label=lab, renderers=[r]))
    for col, vals in zip(colors, v_lines):
        n = min(len(F_GRID), len(vals))
        p.line(F_GRID[:n], vals[:n], line_color=col, line_width=1, line_dash="7 4")
    n = min(len(F_GRID), len(v_avg))
    p.line(F_GRID[:n], v_avg[:n], line_color="black", line_width=3, line_dash="11 5")
    n = min(len(u_avg_f), len(u_avg))
    ra = p.line(u_avg_f[:n], u_avg[:n], line_color="black", line_width=3)
    items.append(LegendItem(label="Depth-avg.", renderers=[ra]))

    p.segment(x0=ERR_F, y0=ERR_LO, x1=ERR_F, y1=ERR_HI, line_color="black", line_width=4)
    p.scatter(ERR_F, ERR_MID, marker="square", size=11, color="black")

    leg = Legend(items=items, location="top_right")
    leg.label_text_font = FONT
    leg.label_text_font_size = "12px"
    leg.label_text_color = "black"
    leg.label_height = 13
    leg.glyph_height = 13
    leg.glyph_width = 68
    leg.label_standoff = 6
    leg.spacing = 5
    leg.padding = 6
    leg.margin = 20
    leg.border_line_color = AX_COLOR
    leg.border_line_width = 1.5
    leg.background_fill_alpha = 1.0
    p.add_layout(leg, "center")
    return p


p1 = make_panel(P1_TITLE, P1_LABELS, P1_COLORS,
                [P1_U_044, P1_U_095, P1_U_145, P1_U_196, P1_U_246, P1_U_348],
                [P1_V_044, P1_V_095, P1_V_145, P1_V_196, P1_V_246, P1_V_348],
                P1_V_AVG, P1_U_AVG_F, P1_U_AVG,
                418, 427, 90, 32, 36, 127)
p2 = make_panel(P2_TITLE, P2_LABELS, P2_COLORS,
                [P2_U_095, P2_U_180, P2_U_279],
                [P2_V_095, P2_V_180, P2_V_279],
                P2_V_AVG, P2_U_AVG_F, P2_U_AVG,
                418, 427, 100, 16, 36, 127)
p3 = make_panel(P3_TITLE, P3_LABELS, P3_COLORS,
                [P3_U_094, P3_U_280],
                [P3_V_094, P3_V_280],
                P3_V_AVG, P3_U_AVG_F, P3_U_AVG,
                418, 427, 90, 32, 38, 70)
p4 = make_panel(P4_TITLE, P4_LABELS, P4_COLORS,
                [P4_U_069, P4_U_247],
                [P4_V_069, P4_V_247],
                P4_V_AVG, P4_U_AVG_F, P4_U_AVG,
                418, 427, 100, 16, 38, 70)

layout = column(row(p1, p2), row(p3, p4))
open("out.html", "w").write(file_html(layout, INLINE))
